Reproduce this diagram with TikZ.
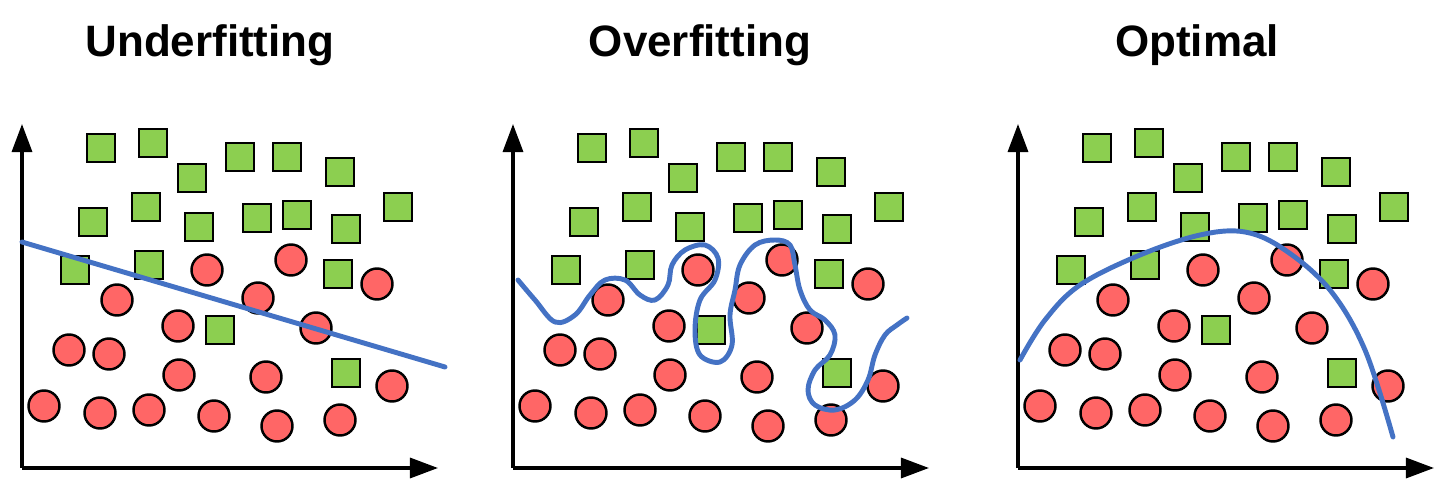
\documentclass[tikz,border=0pt]{standalone}
\usepackage{fontspec}
\setmainfont{Liberation Sans}
\usetikzlibrary{arrows.meta}
\definecolor{sqg}{HTML}{8CCF50}
\definecolor{cred}{HTML}{FF6666}
\definecolor{lblue}{HTML}{4472C4}
\tikzset{
 sq/.style={draw=black,line width=0.7pt,fill=sqg,minimum size=0.28cm,inner sep=0pt,rectangle},
 dot/.style={draw=black,line width=0.7pt,fill=cred,minimum size=0.31cm,inner sep=0pt,circle},
 axis/.style={line width=0.9pt,-{Triangle[length=0.28cm,width=0.2cm]}},
 fit/.style={draw=lblue,line width=1.4pt,line cap=round,line join=round},
 ttl/.style={font=\bfseries\fontsize{12.5}{14}\selectfont}
}
\begin{document}
\begin{tikzpicture}[x=0.01cm,y=-0.01cm]
\useasboundingbox (0,0) rectangle (1456,494);
\foreach \o/\t/\tx in {0/Underfitting/210,491/Overfitting/209,996/Optimal/201}{
 \begin{scope}[xshift=\o*0.01cm]
 \coordinate (o) at (22,468);
 \coordinate (yt) at (22,124);
 \coordinate (xt) at (438,468);
 \draw[axis] (o) -- (yt);
 \draw[axis] (o) -- (xt);
 \node[ttl] (title) at (\tx,45) {\t};
 \foreach \x/\y in {101/148,153/143,192/178,240/157,287/157,340/172,93/222,146/207,199/227,257/218,297/215,346/229,398/207,75/270,149/265,338/274,220/330,346/373}
   \node[sq] at (\x,\y) {};
 \foreach \x/\y in {207/270,291/260,377/284,117/300,258/298,178/326,316/328,69/350,109/354,179/375,266/377,392/386,44/406,100/413,149/410,214/416,277/426,340/420}
   \node[dot] at (\x,\y) {};
 \end{scope}
}
\draw[fit] (22,242) -- (445,367);
\draw[fit] plot[smooth,tension=0.6] coordinates {(518,280) (535,300) (555,322) (575,315) (590,295) (605,280) (625,280) (640,295) (655,300) (668,285) (672,265) (685,250) (705,245) (718,258) (715,280) (700,300) (695,330) (700,355) (720,362) (732,345) (730,315) (735,290) (740,265) (755,245) (775,240) (790,245) (795,265) (800,290) (810,310) (825,320) (835,335) (830,355) (815,370) (808,390) (815,405) (835,410) (855,400) (868,380) (875,355) (885,335) (897,325) (907,318)};
\draw[fit] plot[smooth,tension=0.6] coordinates {(1020,360) (1045,320) (1080,285) (1140,255) (1200,235) (1245,232) (1285,250) (1330,290) (1365,350) (1393,437)};
\end{tikzpicture}
\end{document}
